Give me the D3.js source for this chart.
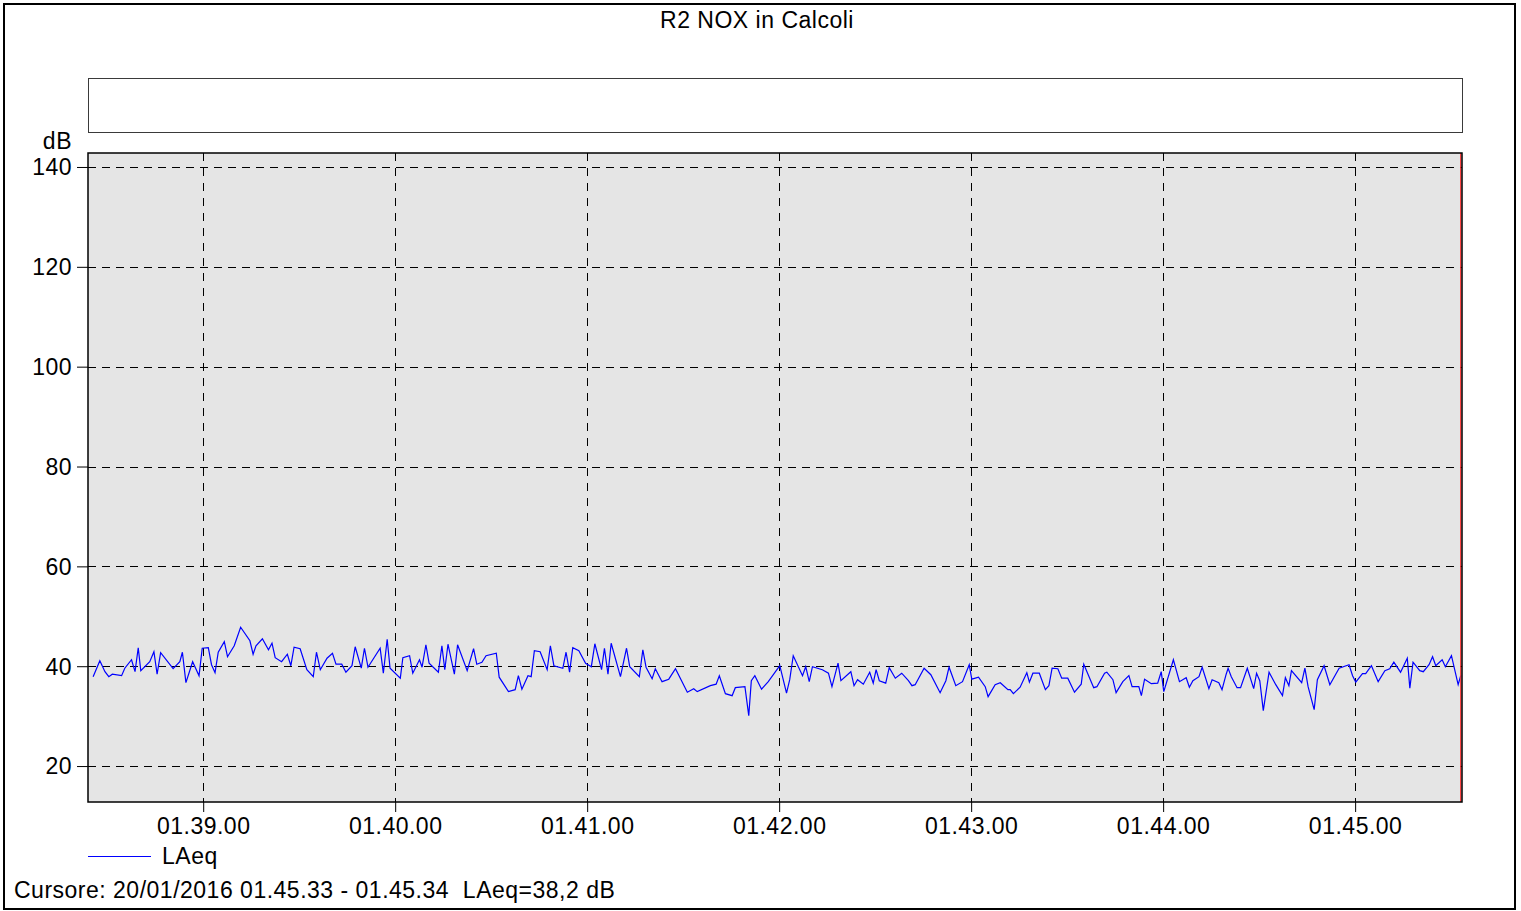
<!DOCTYPE html>
<html>
<head>
<meta charset="utf-8">
<script src="https://cdn.jsdelivr.net/npm/d3@7"></script>
<style>
  body { margin: 0; background: #fff; }
  svg { display: block; font-family: "Liberation Sans", Arial, sans-serif; }
  svg text { font-size: 23px; letter-spacing: 0.5px; }
</style>
</head>
<body>
<svg id="chart" width="1521" height="911"></svg>
<script>
const title = "R2 NOX in Calcoli";
const seriesName = "LAeq";
const unitLabel = "dB";
const cursorText = "Cursore: 20/01/2016 01.45.33 - 01.45.34  LAeq=38,2 dB";

// time of each sample, in seconds after 01.38.00 on 20/01/2016
const secs = [
  25.6, 27.7, 29.3, 30.5, 31.6, 34.5, 35.5, 37.6, 38.7, 39.7, 40.5, 43.3, 44.6, 45.6, 46.7, 50.6,
  52.7, 53.5, 54.6, 56.7, 58.7, 59.7, 61.6, 62.6, 63.7, 64.7, 66.6, 67.6, 69.7, 71.7, 74.6, 75.6,
  76.5, 78.5, 80.4, 81.5, 82.5, 84.5, 86.3, 87.4, 88.4, 90.3, 92.4, 94.4, 95.4,
  96.6, 98.7, 100.4, 101.5, 103.3, 104.6, 106.5, 107.5, 109.4, 110.4, 111.5, 115.3, 116.3, 117.5,
  118.4, 121.6, 122.4, 124.5, 125.5, 127.6, 128.4, 129.6, 130.6, 133.5, 134.6, 135.5, 136.5, 138.5,
  139.5, 142.5, 144.5, 145.5, 147.1, 148.4, 151.6, 152.5, 155.4, 157.5, 158.5, 159.6, 161.5, 162.5,
  163.5, 165.3,
  167.5, 168.5, 169.6, 172.4, 173.4, 174.5, 175.5, 177.4, 179.5, 181.3, 182.4, 184.5, 185.4, 186.5,
  187.5, 190.4, 192.3, 193.3, 196.3, 197.4, 198.4, 200.3, 201.3, 203.4, 205.5, 207.6, 211.3, 213.3,
  214.4, 218.5, 220.3, 221.3, 223.2, 225.3, 226.3, 229.3, 230.5, 231.3, 232.4, 234.5, 236.6,
  240.2, 242.3, 243.3, 244.4, 247.3, 248.3, 249.4, 250.4, 253.5, 255.4, 256.5, 258.4, 259.3, 262.4,
  263.4, 264.5, 266.3, 268.3, 269.4, 270.3, 271.3, 273.3, 274.4, 276.3, 278.3, 280.4, 281.5, 282.5,
  285.3, 287.4, 290.3, 292.1, 293.1, 295.2, 297.3, 299.4, 300.2, 302.3, 304.4, 305.3, 307.5,
  309.1, 311.5, 312.2, 313.2, 315.3, 317.4, 318.2, 319.3, 321.3, 323.2, 324.3, 325.3, 327.1, 328.3,
  330.2, 332.3, 334.4, 335.2, 338.3, 339.3, 341.7, 342.4, 344.3, 345.3, 347.4, 349.3, 350.3, 352.4,
  353.2, 354.2, 356.3, 358.3, 359.4, 360.2, 363.2, 365.1, 367.2, 368.2, 369.3, 371.2, 372.2, 374.3,
  375.3, 377.4, 378.4, 379.7,
  380.3, 381.3, 383.1, 384.2, 386.3, 388.3, 389.2, 390.2, 391.3, 393.1, 395.2, 397.3, 398.2, 399.3,
  400.1, 403.3, 404.3, 405.3, 407.2, 408.2, 410.3, 412.1, 415.0, 418.1, 419.2, 420.2, 422.3, 423.3,
  425.1, 427.2, 429.3, 430.8, 432.1, 434.2, 436.3, 437.1, 438.1, 440.2, 441.3, 443.1, 444.2, 445.2,
  447.2, 448.2, 450.1, 452.2, 453.0
];
const laeq = [
  37.9, 41.1, 38.9, 37.9, 38.4, 38.1, 39.6, 41.3, 38.9, 43.7, 39.1, 40.9, 42.9, 38.4, 42.7, 39.5,
  40.9, 42.8, 36.7, 40.9, 38.1, 43.6, 43.7, 40.3, 38.7, 42.8, 44.9, 41.9, 44.1, 47.8, 45.1, 42.4,
  44.1, 45.5, 43.3, 44.6, 41.7, 40.9, 42.4, 40.1, 43.8, 43.5, 39.3, 37.9, 42.8,
  39.3, 41.6, 42.6, 40.4, 40.4, 38.8, 40.1, 43.9, 39.6, 43.6, 39.8, 43.6, 38.6, 45.4,
  39.6, 37.6, 41.7, 42.1, 38.6, 41.3, 39.8, 44.3, 40.6, 38.8, 44.1, 39.3, 44.4, 38.4,
  44.3, 39.1, 43.5, 40.4, 40.8, 42.1, 42.6, 37.8, 34.9, 35.3, 38.1, 35.4, 38.1, 37.9,
  43.1, 42.9,
  39.3, 44.1, 40.1, 39.6, 42.8, 38.8, 43.7, 43.1, 40.6, 39.9, 44.5, 39.3, 43.6, 38.4,
  44.6, 37.9, 43.6, 39.9, 37.9, 43.3, 39.8, 37.5, 39.5, 36.9, 37.4, 39.5, 34.8, 35.5,
  34.9, 36.1, 36.4, 38.1, 34.5, 34.1, 35.7, 35.9, 30.1, 37.1, 38.1, 35.4, 36.9,
  40.1, 34.6, 37.3, 42.1, 38.1, 39.9, 36.9, 39.9, 39.3, 38.6, 35.9, 40.6, 37.1, 38.9,
  36.1, 37.3, 36.4, 38.8, 36.6, 39.3, 37.1, 36.6, 39.7, 37.6, 38.6, 37.1, 36.1, 36.3,
  39.6, 38.3, 34.7, 37.1, 39.8, 36.1, 36.9, 40.3, 37.4, 37.8, 35.9, 33.9, 36.3,
  36.7, 35.3, 35.3, 34.5, 35.8, 38.7, 36.8, 38.6, 38.6, 35.3, 36.1, 39.6, 39.5, 37.6,
  37.6, 34.8, 36.4, 40.4, 35.7, 35.9, 38.6, 38.8, 37.3, 34.7, 36.9, 38.1, 35.9, 35.9,
  34.1, 37.4, 36.5, 36.6, 38.9, 34.9, 41.3, 36.9, 37.7, 35.8, 37.1, 37.9, 39.8, 35.5,
  37.3, 36.7, 35.3, 38.4,
  39.6, 37.9, 35.7, 35.7, 39.6, 35.5, 38.6, 37.1, 31.1, 38.8, 36.3, 34.1, 37.7, 36.1,
  39.1, 36.7, 39.6, 35.9, 31.3, 37.3, 40.1, 36.3, 39.6, 40.3, 38.1, 36.8, 38.5, 38.5,
  40.1, 36.9, 39.1, 39.5, 40.8, 38.8, 41.6, 35.6, 40.8, 39.1, 38.9, 40.3, 41.9, 40.1,
  41.3, 39.9, 42.1, 36.3, 38.1
];
const yTicks = [20, 40, 60, 80, 100, 120, 140];
const yRange = [12.8, 142.8];
const xRangeSecs = [24, 453.4];
const cursorSec = 453;

const base = new Date(2016, 0, 20, 1, 38, 0);
const toDate = s => new Date(base.getTime() + s * 1000);

const svg = d3.select("#chart");
const plotL = 88, plotR = 1462, plotT = 153, plotB = 802;

const x = d3.scaleTime()
    .domain(xRangeSecs.map(toDate))
    .range([plotL, plotR]);
const y = d3.scaleLinear()
    .domain(yRange)
    .range([plotB, plotT]);

// outer frame
svg.append("rect")
    .attr("x", 4).attr("y", 4)
    .attr("width", 1511).attr("height", 905)
    .attr("fill", "#fff")
    .attr("stroke", "#000")
    .attr("stroke-width", 2);

svg.append("text")
    .attr("x", 757).attr("y", 28)
    .attr("text-anchor", "middle")
    .text(title);

// empty legend box on top
svg.append("rect")
    .attr("x", 88.5).attr("y", 78.5)
    .attr("width", 1374).attr("height", 54)
    .attr("fill", "#fff")
    .attr("stroke", "#3a3a3a")
    .attr("stroke-width", 1);

// plot area
svg.append("rect")
    .attr("x", plotL).attr("y", plotT)
    .attr("width", plotR - plotL).attr("height", plotB - plotT)
    .attr("fill", "#e5e5e5");

const grid = svg.append("g");
grid.selectAll("line.h")
    .data(yTicks)
    .enter().append("line")
    .attr("class", "h")
    .attr("x1", plotL).attr("x2", plotR)
    .attr("y1", d => Math.round(y(d)) + 0.5)
    .attr("y2", d => Math.round(y(d)) + 0.5)
    .attr("stroke", "#000")
    .attr("stroke-dasharray", "8,6");

const xTicks = x.ticks(d3.timeMinute.every(1));
grid.selectAll("line.v")
    .data(xTicks)
    .enter().append("line")
    .attr("class", "v")
    .attr("x1", d => Math.round(x(d)) + 0.5)
    .attr("x2", d => Math.round(x(d)) + 0.5)
    .attr("y1", plotT).attr("y2", plotB)
    .attr("stroke", "#000")
    .attr("stroke-dasharray", "8,7");

// data line
const points = secs.map((s, i) => ({t: toDate(s), v: laeq[i]}));
const line = d3.line()
    .x(d => x(d.t))
    .y(d => y(d.v));

svg.append("path")
    .datum(points)
    .attr("d", line)
    .attr("fill", "none")
    .attr("stroke", "#0000ff")
    .attr("stroke-width", 1.2);

// cursor
svg.append("line")
    .attr("x1", x(toDate(cursorSec))).attr("x2", x(toDate(cursorSec)))
    .attr("y1", plotT).attr("y2", plotB)
    .attr("stroke", "#ff3030")
    .attr("stroke-width", 1.2);

svg.append("rect")
    .attr("x", plotL).attr("y", plotT)
    .attr("width", plotR - plotL).attr("height", plotB - plotT)
    .attr("fill", "none")
    .attr("stroke", "#000")
    .attr("stroke-width", 1.5);

// axes
const yAxis = svg.append("g")
    .attr("transform", `translate(${plotL},0)`)
    .call(d3.axisLeft(y).tickValues(yTicks).tickSize(11).tickPadding(5));
const xAxis = svg.append("g")
    .attr("transform", `translate(0,${plotB})`)
    .call(d3.axisBottom(x).tickValues(xTicks).tickSize(10).tickPadding(6)
        .tickFormat(d3.timeFormat("%H.%M.%S")));

[yAxis, xAxis].forEach(a => {
    a.select(".domain").remove();
    a.selectAll(".tick line").attr("stroke", "#000");
    a.selectAll(".tick text")
        .attr("fill", "#000")
        .attr("font-size", null)
        .attr("font-family", null);
});
yAxis.selectAll(".tick text").attr("dy", "0.34em");
// the axis sets font attributes on its group; drop them so the css applies
yAxis.attr("font-size", null).attr("font-family", null);
xAxis.attr("font-size", null).attr("font-family", null);

svg.append("text")
    .attr("x", 72).attr("y", 149)
    .attr("text-anchor", "end")
    .text(unitLabel);

// legend
svg.append("line")
    .attr("x1", 88).attr("x2", 151)
    .attr("y1", 856.5).attr("y2", 856.5)
    .attr("stroke", "#0000ff");
svg.append("text")
    .attr("x", 162).attr("y", 864)
    .text(seriesName);

svg.append("text")
    .attr("x", 14).attr("y", 898)
    .style("white-space", "pre")
    .text(cursorText);
</script>
</body>
</html>
